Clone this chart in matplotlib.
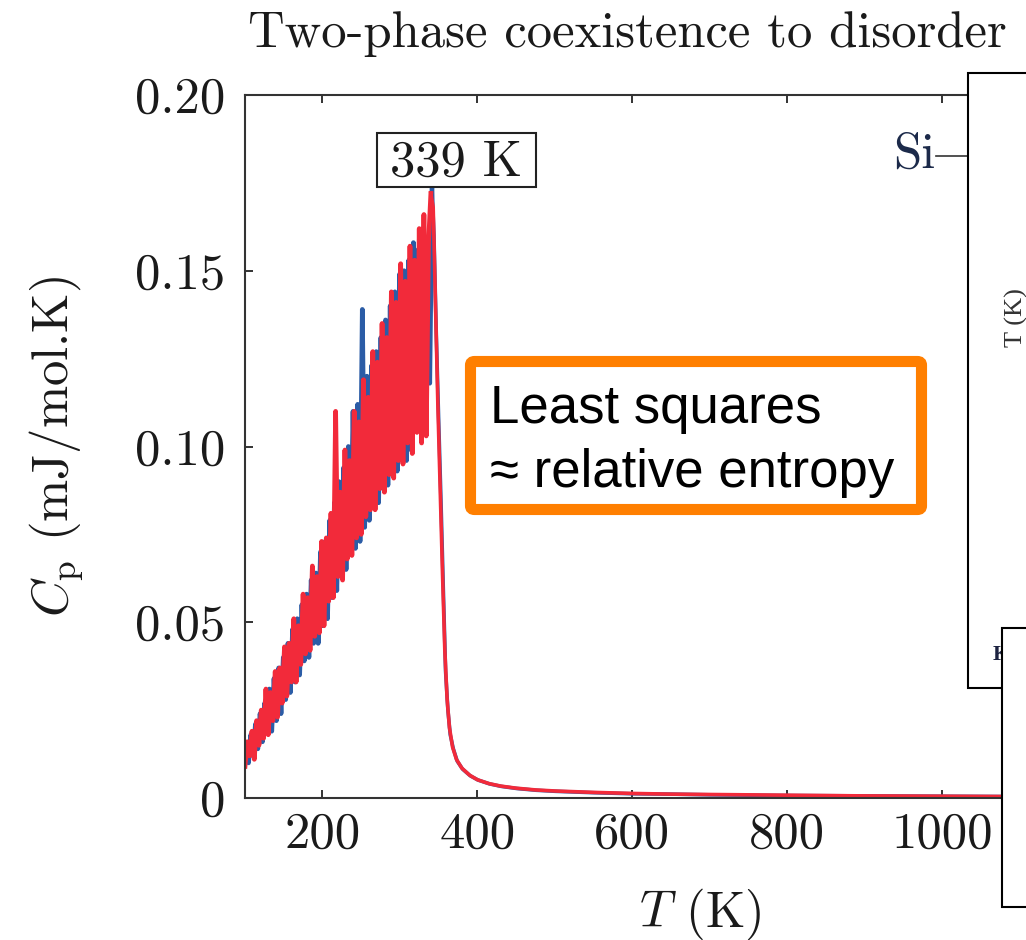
import numpy as np
import matplotlib
matplotlib.use("Agg")
import matplotlib.pyplot as plt
from matplotlib.patches import Rectangle, FancyBboxPatch
from matplotlib.lines import Line2D

plt.rcParams['font.family'] = 'serif'
plt.rcParams['font.serif'] = ['cmr10']
plt.rcParams['mathtext.fontset'] = 'cm'
plt.rcParams['axes.formatter.use_mathtext'] = True
plt.rcParams['axes.unicode_minus'] = False

# noisy part below the transition (T from 100 K in steps of 3 K)
red_T_low = np.arange(100, 341, 3)
red_cp_low = [0.009, 0.016, 0.012, 0.019, 0.011, 0.022, 0.015, 0.025, 0.017, 0.031,
              0.018, 0.030, 0.022, 0.036, 0.023, 0.037, 0.027, 0.043, 0.029, 0.044,
              0.033, 0.051, 0.033, 0.049, 0.038, 0.058, 0.041, 0.057, 0.042, 0.066,
              0.046, 0.063, 0.047, 0.073, 0.049, 0.074, 0.056, 0.081, 0.057, 0.110,
              0.063, 0.087, 0.062, 0.099, 0.068, 0.096, 0.069, 0.110, 0.074, 0.107,
              0.075, 0.119, 0.080, 0.114, 0.082, 0.127, 0.082, 0.124, 0.088, 0.135,
              0.087, 0.131, 0.092, 0.144, 0.091, 0.141, 0.096, 0.152, 0.095, 0.147,
              0.101, 0.157, 0.098, 0.153, 0.104, 0.162, 0.101, 0.166, 0.103, 0.158,
              0.172]
# smooth part above the transition
red_T_high = [340, 343, 346, 349, 352, 355, 358, 361, 364, 368, 373, 380, 390, 400, 415,
              430, 450, 475, 500, 550, 600, 650, 700, 800, 900, 1000, 1100, 1200, 1300]
red_cp_high = [0.172, 0.168, 0.140, 0.112, 0.088, 0.064, 0.042, 0.028, 0.020, 0.0145, 0.011,
               0.0085, 0.0065, 0.0052, 0.0041, 0.0034, 0.0028, 0.0023, 0.0020, 0.0016,
               0.0013, 0.0011, 0.0010, 0.0008, 0.0006, 0.0005, 0.0004, 0.0003, 0.0003]

blue_T_low = np.arange(101.5, 342, 3)
blue_cp_low = [0.015, 0.010, 0.018, 0.012, 0.021, 0.014, 0.024, 0.016, 0.027, 0.019,
               0.031, 0.019, 0.034, 0.022, 0.037, 0.024, 0.040, 0.028, 0.044, 0.030,
               0.048, 0.033, 0.051, 0.035, 0.055, 0.039, 0.058, 0.040, 0.062, 0.044,
               0.064, 0.044, 0.070, 0.049, 0.073, 0.051, 0.079, 0.057, 0.084, 0.059,
               0.090, 0.063, 0.094, 0.065, 0.100, 0.070, 0.110, 0.071, 0.112, 0.073,
               0.139, 0.077, 0.120, 0.079, 0.123, 0.083, 0.127, 0.084, 0.131, 0.088,
               0.136, 0.089, 0.140, 0.092, 0.144, 0.093, 0.149, 0.096, 0.150, 0.096,
               0.153, 0.099, 0.158, 0.109, 0.156, 0.111, 0.162, 0.106, 0.157, 0.118,
               0.174]
blue_T_high = [341.5, 344, 347, 350, 353, 356, 359, 362, 365, 369, 374, 381, 391, 401, 416,
               431, 451, 476, 501, 551, 601, 651, 701, 801, 901, 1001, 1101, 1201, 1301]
blue_cp_high = [0.174, 0.160, 0.132, 0.108, 0.085, 0.060, 0.036, 0.025, 0.018, 0.014, 0.0105,
                0.0082, 0.0063, 0.0051, 0.0040, 0.0033, 0.0027, 0.0022, 0.0019, 0.0015,
                0.0012, 0.0011, 0.0009, 0.0007, 0.0006, 0.0005, 0.0004, 0.0003, 0.0003]

x_ticks = [200, 400, 600, 800, 1000]
x_tick_labels = ['200', '400', '600', '800', '1000']
y_ticks = [0, 0.05, 0.10, 0.15, 0.20]
y_tick_labels = ['0', '0.05', '0.10', '0.15', '0.20']
peak_label = '339 K'

W, H = 1026, 940
fs = 36.5
blue = '#2b5ca6'
red = '#f22a3a'
fig = plt.figure(figsize=(W / 100, H / 100), dpi=100)
ax = fig.add_axes([245 / W, 1 - 798 / H, 910 / W, 703 / H])

ax.plot(blue_T_low, blue_cp_low, color=blue, lw=3.4)
ax.plot(blue_T_high, blue_cp_high, color=blue, lw=2.6)
ax.plot(red_T_low, red_cp_low, color=red, lw=3.4)
ax.plot(red_T_high, red_cp_high, color=red, lw=2.6)

ax.set_xlim(100, 1275)
ax.set_ylim(0, 0.20)
ax.set_xticks(x_ticks + [1200])
ax.set_xticklabels(x_tick_labels + [''])
ax.set_yticks(y_ticks)
ax.set_yticklabels(y_tick_labels)
ax.tick_params(direction='in', length=6, width=1.4, top=True, right=True,
               labelsize=fs, colors='#333333', labelcolor='#1a1a1a')
ax.tick_params(axis='x', pad=10)
ax.tick_params(axis='y', pad=14)
for s in ax.spines.values():
    s.set_linewidth(1.5)
    s.set_color('#333333')

ax.set_xlabel(r'$T$ (K)', fontsize=fs, color='#1a1a1a')
ax.set_ylabel(r'$C_{\mathrm{p}}$ (mJ/mol.K)', fontsize=fs, color='#1a1a1a')
ax.yaxis.set_label_coords(-0.175, 0.5)
ax.xaxis.set_label_coords(0.5, -0.125)

fig.text(248 / W, 1 - 47 / H, 'Two-phase coexistence to disorder', fontsize=fs,
         ha='left', va='baseline', color='#1a1a1a')

# peak label box
fig.add_artist(Rectangle((377 / W, 1 - 187 / H), 159 / W, 54 / H, fc='white',
                         ec='#222222', lw=1.5, transform=fig.transFigure, zorder=5))
fig.text(456 / W, 1 - 176 / H, peak_label, fontsize=fs, ha='center', va='baseline',
         color='#1a1a1a', zorder=6)

# orange annotation box
fig.add_artist(FancyBboxPatch((470.5 / W, 1 - 509.5 / H), 451 / W, 148 / H,
                              boxstyle='round,pad=0,rounding_size=0.004',
                              fc='white', ec='#ff7f00', lw=8,
                              transform=fig.transFigure, zorder=5))
sans = ['Liberation Sans', 'DejaVu Sans']
fig.text(490 / W, 1 - 423 / H, 'Least squares', fontsize=38, family=sans,
         ha='left', va='baseline', color='black', zorder=6)
fig.text(490 / W, 1 - 487 / H, '\u2248 relative entropy', fontsize=38, family=sans,
         ha='left', va='baseline', color='black', zorder=6)

# partially visible neighbouring panels
fig.text(893 / W, 1 - 168 / H, 'Si', fontsize=fs, ha='left', va='baseline',
         color='#1c2a4a')
fig.add_artist(Line2D([936 / W, 968 / W], [1 - 156 / H, 1 - 156 / H], color='#333333',
                      lw=1.2, transform=fig.transFigure))
fig.add_artist(Rectangle((968 / W, 1 - 688 / H), 200 / W, 615 / H, fc='white',
                         ec='black', lw=1.5, transform=fig.transFigure, zorder=7))
fig.text(1016 / W, 1 - 318 / H, 'T (K)', fontsize=19, rotation=90, ha='center',
         va='center', family=['Liberation Serif', 'DejaVu Serif'], color='#333333',
         zorder=8)
fig.text(993 / W, 1 - 655 / H, 'K', fontsize=16, ha='left', va='center',
         family=['Liberation Serif', 'DejaVu Serif'], weight='bold', color='#1c2240',
         zorder=8)
fig.add_artist(Rectangle((1002 / W, 1 - 907 / H), 200 / W, 279 / H, fc='white',
                         ec='black', lw=1.5, transform=fig.transFigure, zorder=9))

fig.savefig('out.png', dpi=100)
